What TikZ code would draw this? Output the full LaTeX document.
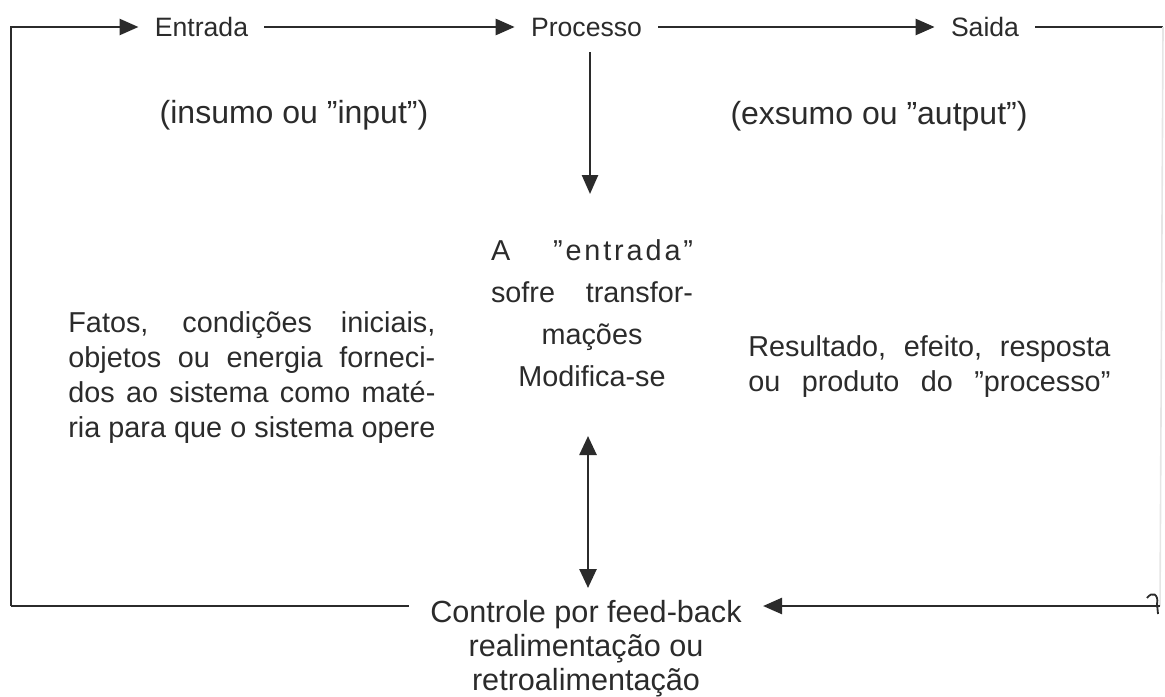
\documentclass[tikz,border=0pt]{standalone}
\usepackage{fontspec}
\setmainfont{Liberation Sans}
\usetikzlibrary{arrows.meta}
\definecolor{ink}{HTML}{2B2B2B}
\newcommand{\jline}[2]{{\spaceskip=0pt\xspaceskip=0pt\makebox[#1][s]{#2}}}
\tikzset{
  line/.style={draw=ink, line width=1.3pt},
  arr/.style={line, -{Triangle[length=9.5pt,width=8pt]}},
  darr/.style={line, {Triangle[length=9.5pt,width=8.5pt]}-{Triangle[length=9.5pt,width=8.5pt]}},
  lbl/.style={font=\fontsize{13.3}{16}\selectfont, text=ink, inner xsep=8pt, inner ysep=2pt, anchor=base},
  paren/.style={font=\fontsize{16}{19}\selectfont, text=ink, inner sep=0pt, anchor=base},
  para/.style={font=\fontsize{14.4}{17.5}\selectfont, text=ink, inner sep=0pt, align=left, anchor=base west},
  ctr/.style={font=\fontsize{14.4}{21}\selectfont, text=ink, inner sep=0pt, align=center, anchor=base},
  bot/.style={font=\fontsize{15.3}{17}\selectfont, text=ink, inner ysep=1pt, inner xsep=10.5pt, anchor=base},
}
\begin{document}
\begin{tikzpicture}[x=0.5pt,y=-0.5pt]
\useasboundingbox (0,0) rectangle (1165,696);
% corners
\coordinate (TL) at (11,27);
\coordinate (BL) at (11,606);
\coordinate (TR) at (1163,27);
\coordinate (BR) at (1160,606);
\coordinate (dtop) at (590,52);
\coordinate (dbot) at (590,194);
\coordinate (utop) at (588,436);
\coordinate (ubot) at (588,588);
% top labels
\node[lbl] (ent) at (201.5,36) {Entrada};
\node[lbl] (proc) at (586.5,36) {Processo};
\node[lbl] (sai) at (985,36) {Saida};
% parentheticals
\node[paren] (ins) at (294,123) {(insumo ou ''input'')};
\node[paren] (exs) at (879,124) {(exsumo ou ''autput'')};
% left paragraph
\node[para, text width=183.5pt] (lp) at (68,332) {%
\jline{183.5pt}{Fatos, condições iniciais,}\\
\jline{183.5pt}{objetos ou energia forneci-}\\
\jline{183.5pt}{dos ao sistema como maté-}\\
\jline{183.5pt}{ria para que o sistema opere}};
% centre block
\node[ctr, text width=101pt] (cp) at (592,260) {%
\jline{101pt}{A\hfill{\addfontfeature{LetterSpace=10}''entrada''}}\\
\jline{101pt}{sofre transfor-}\\
mações\\
Modifica-se};
% right paragraph
\node[para, text width=181pt] (rp) at (748,356) {%
\jline{181pt}{Resultado, efeito, resposta}\\
\jline{181pt}{ou produto do ''processo''}};
% bottom
\node[bot] (ctrl) at (586,622) {Controle por feed-back};
\node[bot] (rea) at (586,656) {realimentação ou};
\node[bot] (retro) at (586,690) {retroalimentação};
% connectors on top
\draw[arr] (TL |- BL) -- (TL) -- (TL -| ent.west);
\draw[arr] (TL -| ent.east) -- (TL -| proc.west);
\draw[arr] (TL -| proc.east) -- (TL -| sai.west);
\draw[line] (TL -| sai.east) -- (TR);
% faint right side
\draw[draw=black!10, line width=0.8pt] (TR) -- (BR);
% bottom
\draw[line] (ctrl.west |- BL) -- (BL);
\draw[arr] (BR) -- (ctrl.east |- BR);
\draw[draw=ink, line width=0.9pt] (1147,598) .. controls (1152,591) and (1159,594) .. (1157,604) -- (1158,614);
% vertical arrows
\draw[arr] (dtop) -- (dbot);
\draw[darr] (utop) -- (ubot);
\end{tikzpicture}
\end{document}
